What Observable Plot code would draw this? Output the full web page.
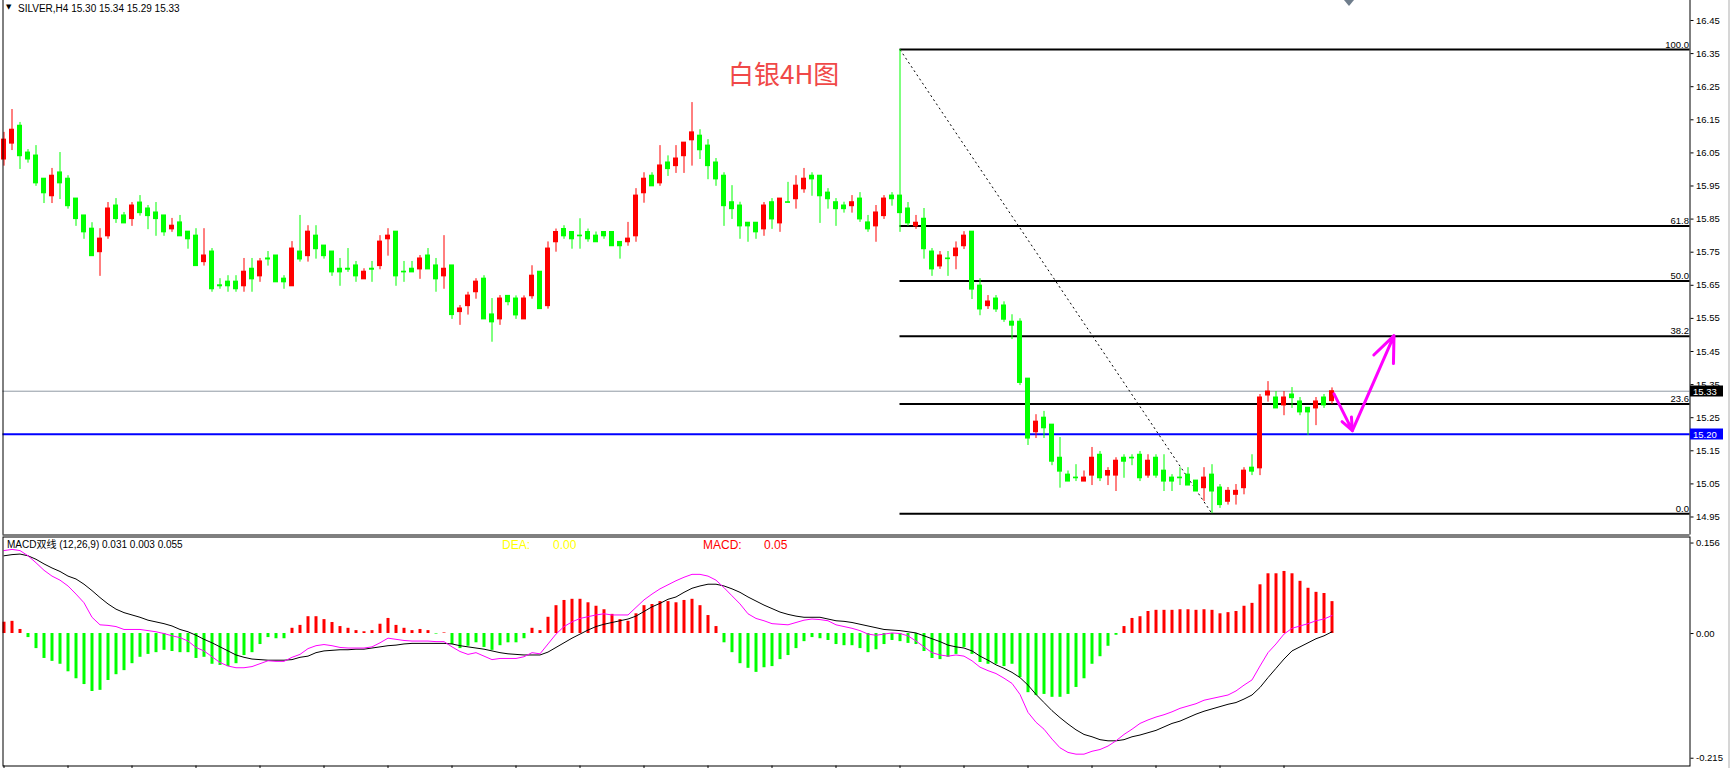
<!DOCTYPE html>
<html><head><meta charset="utf-8">
<script src="https://cdn.jsdelivr.net/npm/d3@7"></script>
<script src="https://cdn.jsdelivr.net/npm/@observablehq/plot@0.6"></script>
<style>
html,body{margin:0;padding:0;background:#fff;overflow:hidden;}
#wrap{position:relative;width:1731px;height:768px;overflow:hidden;background:#fff;font-family:'Liberation Sans',Arial,sans-serif;}
#main,#macd{position:absolute;left:0;}
#main{top:0;} #macd{top:535px;}
.lbl{position:absolute;white-space:nowrap;line-height:1;}
#edge{position:absolute;left:1728px;top:0;width:2px;height:768px;background:#d6d6d6;}
</style></head>
<body><div id="wrap"><div id="main"></div><div id="macd"></div><div id="edge"></div></div>
<script>
// ---------- DATA ----------
const symbolName = "SILVER,H4";
const chartTitle = "白银4H图";
const openP = [16.030,16.078,16.132,16.051,16.042,15.972,15.919,15.991,15.972,15.912,15.861,15.821,15.750,15.798,15.891,15.861,15.850,15.900,15.882,15.870,
15.861,15.819,15.840,15.812,15.800,15.720,15.752,15.650,15.661,15.661,15.647,15.700,15.677,15.731,15.740,15.670,15.647,15.752,15.738,15.800,
15.770,15.752,15.700,15.700,15.710,15.668,15.700,15.708,15.789,15.812,15.691,15.700,15.698,15.740,15.710,15.677,15.710,15.569,15.587,15.629,
15.670,15.562,15.547,15.618,15.610,15.547,15.617,15.691,15.587,15.780,15.820,15.811,15.800,15.811,15.800,15.811,15.811,15.781,15.780,15.798,
15.928,15.981,15.958,16.021,16.010,16.040,16.088,16.102,16.072,16.021,15.981,15.901,15.891,15.839,15.839,15.819,15.901,15.837,15.901,15.910,
15.940,15.981,15.981,15.930,15.901,15.891,15.889,15.912,15.840,15.828,15.859,15.921,15.921,15.882,15.828,15.851,15.752,15.707,15.731,15.738,
15.768,15.812,15.649,15.587,15.610,15.589,15.540,15.540,15.368,15.206,15.250,15.229,15.129,15.078,15.069,15.057,15.075,15.138,15.075,15.075,
15.129,15.129,15.138,15.075,15.129,15.090,15.069,15.069,15.078,15.060,15.037,15.078,15.039,14.996,15.017,15.037,15.099,15.097,15.317,15.311,
15.287,15.320,15.299,15.280,15.278,15.311,15.300];
const highP = [16.112,16.181,16.142,16.060,16.072,15.972,16.003,16.051,15.981,15.912,15.861,15.839,15.821,15.900,15.912,15.870,15.900,15.921,15.891,15.900,
15.861,15.852,15.861,15.812,15.821,15.821,15.761,15.670,15.679,15.679,15.731,15.731,15.731,15.752,15.740,15.679,15.782,15.861,15.830,15.830,
15.770,15.752,15.731,15.761,15.722,15.700,15.722,15.800,15.821,15.812,15.722,15.722,15.740,15.761,15.731,15.800,15.710,15.589,15.629,15.670,
15.679,15.610,15.619,15.618,15.618,15.618,15.709,15.691,15.781,15.820,15.830,15.811,15.851,15.820,15.811,15.811,15.811,15.781,15.840,15.942,
15.990,15.990,16.072,16.041,16.072,16.081,16.202,16.120,16.090,16.033,15.990,15.951,15.901,15.839,15.839,15.900,15.912,15.912,15.961,15.981,
16.003,15.990,15.981,15.942,15.912,15.901,15.921,15.930,15.861,15.891,15.921,15.930,16.362,15.900,15.861,15.882,15.761,15.752,15.752,15.781,
15.812,15.812,15.670,15.619,15.619,15.600,15.561,15.549,15.368,15.259,15.269,15.229,15.190,15.089,15.108,15.089,15.160,15.148,15.099,15.129,
15.138,15.138,15.148,15.138,15.138,15.138,15.078,15.099,15.099,15.060,15.099,15.108,15.048,15.039,15.048,15.099,15.138,15.320,15.359,15.329,
15.329,15.341,15.311,15.280,15.311,15.320,15.340];
const lowP = [16.010,16.057,16.000,16.019,15.949,15.897,15.897,15.909,15.880,15.828,15.789,15.738,15.677,15.789,15.837,15.837,15.828,15.859,15.818,15.798,
15.798,15.810,15.798,15.759,15.708,15.708,15.629,15.638,15.629,15.629,15.629,15.629,15.659,15.708,15.659,15.638,15.647,15.720,15.720,15.729,
15.729,15.677,15.647,15.689,15.659,15.668,15.659,15.697,15.738,15.647,15.659,15.689,15.668,15.698,15.629,15.638,15.547,15.529,15.560,15.608,
15.547,15.478,15.529,15.588,15.547,15.547,15.608,15.578,15.578,15.750,15.789,15.759,15.759,15.780,15.780,15.789,15.768,15.729,15.768,15.780,
15.898,15.949,15.949,15.979,15.988,15.988,16.010,16.030,15.969,15.949,15.828,15.849,15.789,15.780,15.789,15.798,15.819,15.810,15.899,15.880,
15.928,15.919,15.837,15.880,15.828,15.868,15.868,15.840,15.810,15.780,15.849,15.889,15.810,15.828,15.819,15.729,15.677,15.698,15.677,15.697,
15.758,15.607,15.558,15.577,15.568,15.538,15.486,15.347,15.166,15.187,15.187,15.105,15.037,15.057,15.057,15.057,15.045,15.057,15.045,15.027,
15.067,15.105,15.057,15.067,15.067,15.027,15.027,15.045,15.045,15.027,14.997,14.960,14.976,14.986,14.986,15.017,15.075,15.075,15.297,15.278,
15.256,15.278,15.256,15.196,15.226,15.278,15.290];
const closeP = [16.090,16.120,16.040,16.030,15.958,15.928,15.981,15.958,15.889,15.850,15.810,15.738,15.791,15.882,15.850,15.837,15.891,15.868,15.859,15.850,
15.810,15.830,15.798,15.789,15.708,15.740,15.638,15.647,15.647,15.638,15.691,15.668,15.722,15.728,15.659,15.659,15.761,15.728,15.812,15.759,
15.738,15.689,15.689,15.697,15.677,15.691,15.697,15.782,15.800,15.677,15.689,15.689,15.731,15.698,15.668,15.700,15.560,15.580,15.619,15.661,
15.547,15.538,15.610,15.599,15.559,15.610,15.679,15.578,15.761,15.811,15.798,15.789,15.798,15.789,15.780,15.798,15.768,15.768,15.791,15.921,
15.972,15.949,16.012,16.001,16.033,16.081,16.112,16.058,16.010,15.970,15.889,15.880,15.828,15.828,15.810,15.891,15.849,15.912,15.899,15.951,
15.972,15.970,15.919,15.910,15.880,15.880,15.901,15.849,15.819,15.870,15.912,15.910,15.868,15.837,15.839,15.759,15.698,15.740,15.729,15.761,
15.800,15.637,15.577,15.601,15.577,15.546,15.528,15.355,15.187,15.238,15.218,15.117,15.087,15.057,15.067,15.069,15.129,15.067,15.089,15.120,
15.117,15.127,15.067,15.120,15.075,15.057,15.057,15.067,15.045,15.027,15.069,15.027,14.986,15.029,15.029,15.090,15.087,15.311,15.329,15.278,
15.311,15.309,15.266,15.266,15.299,15.287,15.330];

const macdHist = [0.0195,0.021,0.007,-0.007,-0.026,-0.043,-0.048,-0.053,-0.066,-0.078,-0.088,-0.100,-0.098,-0.081,-0.071,-0.064,-0.052,-0.041,-0.036,-0.033,
-0.029,-0.031,-0.033,-0.033,-0.043,-0.041,-0.053,-0.055,-0.057,-0.052,-0.038,-0.033,-0.019,-0.007,-0.009,-0.009,0.009,0.014,0.029,0.029,
0.024,0.019,0.012,0.009,0.005,0.003,0.005,0.016,0.026,0.014,0.009,0.005,0.007,0.005,-0.001,0.001,-0.019,-0.026,-0.022,-0.016,
-0.024,-0.029,-0.021,-0.016,-0.016,-0.009,0.009,0.005,0.028,0.048,0.057,0.059,0.059,0.053,0.047,0.041,0.033,0.024,0.021,0.034,
0.048,0.050,0.055,0.055,0.053,0.057,0.059,0.048,0.031,0.012,-0.016,-0.033,-0.052,-0.060,-0.067,-0.059,-0.057,-0.045,-0.038,-0.026,
-0.014,-0.007,-0.009,-0.012,-0.019,-0.021,-0.021,-0.026,-0.033,-0.028,-0.019,-0.012,-0.014,-0.017,-0.019,-0.031,-0.043,-0.045,-0.041,-0.036,
-0.024,-0.036,-0.050,-0.053,-0.053,-0.057,-0.053,-0.076,-0.102,-0.107,-0.105,-0.110,-0.110,-0.105,-0.093,-0.078,-0.053,-0.040,-0.022,-0.003,
0.012,0.026,0.029,0.038,0.040,0.040,0.040,0.041,0.041,0.040,0.041,0.040,0.034,0.036,0.038,0.047,0.052,0.084,0.103,0.103,
0.107,0.103,0.090,0.078,0.071,0.069,0.055];
const macdDiff = [0.143,0.145,0.143,0.134,0.122,0.109,0.099,0.092,0.082,0.068,0.053,0.028,0.015,0.014,0.012,0.007,0.007,0.007,0.005,0.003,
0.000,-0.004,-0.007,-0.013,-0.024,-0.030,-0.040,-0.050,-0.056,-0.059,-0.059,-0.057,-0.052,-0.047,-0.048,-0.048,-0.041,-0.036,-0.026,-0.021,
-0.019,-0.021,-0.024,-0.025,-0.025,-0.025,-0.023,-0.016,-0.008,-0.010,-0.012,-0.013,-0.013,-0.013,-0.014,-0.014,-0.023,-0.031,-0.036,-0.033,
-0.039,-0.045,-0.043,-0.043,-0.043,-0.040,-0.033,-0.035,-0.018,-0.001,0.012,0.020,0.026,0.029,0.032,0.034,0.032,0.032,0.032,0.045,
0.058,0.068,0.077,0.084,0.091,0.097,0.102,0.102,0.099,0.092,0.079,0.065,0.051,0.034,0.026,0.022,0.017,0.016,0.015,0.019,
0.023,0.025,0.024,0.022,0.015,0.012,0.009,0.005,-0.001,-0.003,-0.001,0.001,0.000,-0.004,-0.013,-0.023,-0.033,-0.037,-0.039,-0.037,
-0.039,-0.047,-0.058,-0.064,-0.069,-0.077,-0.086,-0.105,-0.136,-0.153,-0.165,-0.182,-0.197,-0.205,-0.208,-0.208,-0.203,-0.200,-0.194,-0.185,
-0.174,-0.165,-0.155,-0.149,-0.144,-0.140,-0.135,-0.129,-0.125,-0.121,-0.115,-0.112,-0.109,-0.106,-0.099,-0.089,-0.080,-0.056,-0.033,-0.018,
-0.001,0.009,0.013,0.017,0.022,0.025,0.031];
const macdDea = [0.134,0.136,0.137,0.134,0.128,0.120,0.113,0.107,0.099,0.094,0.085,0.074,0.062,0.051,0.042,0.036,0.032,0.028,0.023,0.020,
0.017,0.013,0.007,0.003,-0.003,-0.010,-0.016,-0.023,-0.030,-0.037,-0.041,-0.044,-0.045,-0.046,-0.046,-0.046,-0.045,-0.041,-0.039,-0.033,
-0.030,-0.029,-0.028,-0.028,-0.027,-0.027,-0.025,-0.023,-0.021,-0.020,-0.018,-0.017,-0.017,-0.017,-0.017,-0.017,-0.018,-0.021,-0.023,-0.025,
-0.027,-0.030,-0.033,-0.035,-0.036,-0.037,-0.037,-0.037,-0.032,-0.024,-0.016,-0.008,-0.001,0.006,0.012,0.016,0.019,0.022,0.025,0.030,
0.038,0.046,0.052,0.059,0.063,0.071,0.078,0.082,0.085,0.085,0.082,0.077,0.071,0.063,0.056,0.049,0.043,0.037,0.033,0.030,
0.028,0.028,0.028,0.025,0.022,0.021,0.019,0.016,0.013,0.010,0.007,0.006,0.005,0.003,0.001,-0.004,-0.009,-0.014,-0.020,-0.023,
-0.025,-0.030,-0.039,-0.046,-0.054,-0.060,-0.067,-0.076,-0.089,-0.105,-0.119,-0.133,-0.145,-0.156,-0.166,-0.174,-0.178,-0.183,-0.185,-0.185,
-0.183,-0.178,-0.175,-0.171,-0.167,-0.161,-0.155,-0.151,-0.145,-0.139,-0.134,-0.130,-0.126,-0.122,-0.119,-0.113,-0.106,-0.093,-0.076,-0.060,
-0.044,-0.030,-0.023,-0.016,-0.009,-0.004,0.003];

const priceTicks = [14.95,15.05,15.15,15.25,15.35,15.45,15.55,15.65,15.75,15.85,15.95,16.05,16.15,16.25,16.35,16.45];
const macdTicks = [0.156, 0, -0.215];
const macdTickLabels = ["0.156", "0.00", "-0.215"];
const timeTickBars = [0,8,16,24,32,40,48,56,64,72,80,88,96,104,112,120,128,136,144,152,160];

const fibLabels = ["100.0","61.8","50.0","38.2","23.6","0.0"];
const fibPrices = [16.362,15.829,15.663,15.496,15.291,14.960];
const fibStartBar = 112;
const trendBars = [112, 151];
const trendPrices = [16.362, 14.960];
const supportPrice = 15.20;
const bidPrice = 15.33;
const arrowBars = [166.25, 168.55, 173.75];
const arrowPrices = [15.322, 15.211, 15.498];
const macdParams = "(12,26,9)";
const deaText = ["DEA:", "0.00"];
const macdText = ["MACD:", "0.05"];

// ---------- CHART ----------
const W = 1731;
const xDomain = [-0.125, 210.75];
const mainYDomain = [14.8956, 16.5104];
const macdYDomain = [-0.2284, 0.1664];
const RED = "#ff0000", GREEN = "#00ff00";
const font = "'Liberation Sans', Arial, sans-serif";

const bars = openP.map((o, i) => ({i, o, h: highP[i], l: lowP[i], c: closeP[i], up: closeP[i] > openP[i]}));
const upBars = bars.filter(d => d.up), downBars = bars.filter(d => !d.up);
const fibData = fibPrices.map((p, j) => ({p, label: fibLabels[j]}));
const arrowSegs = [0, 1].map(j => ({x1: arrowBars[j], y1: arrowPrices[j], x2: arrowBars[j + 1], y2: arrowPrices[j + 1]}));

function candleMarks(data, color) {
  return [
    Plot.ruleX(data, {x: "i", y1: "l", y2: "h", stroke: color, strokeWidth: 1}),
    Plot.rect(data, {x1: d => d.i - 0.3125, x2: d => d.i + 0.3125, y1: d => Math.min(d.o, d.c), y2: d => Math.max(d.o, d.c), fill: color, insetTop: -0.5, insetBottom: -0.5})
  ];
}

const main = Plot.plot({
  width: W, height: 535,
  marginLeft: 2.5, marginRight: 41.5, marginTop: 0, marginBottom: 0.5,
  x: {domain: xDomain, axis: null},
  y: {domain: mainYDomain, axis: null},
  style: {fontFamily: font, fontSize: "9.5px", background: "transparent", overflow: "visible"},
  marks: [
    Plot.ruleY([bidPrice], {stroke: "#8f9aa4", strokeWidth: 1}),
    Plot.ruleY([supportPrice], {stroke: "#0000ff", strokeWidth: 2}),
    Plot.ruleY(fibData, {y: "p", x1: fibStartBar, x2: xDomain[1], stroke: "#000", strokeWidth: 2}),
    Plot.link([0], {x1: () => trendBars[0], y1: () => trendPrices[0], x2: () => trendBars[1], y2: () => trendPrices[1], stroke: "#000", strokeWidth: 1, strokeDasharray: "2,3"}),
    ...candleMarks(downBars, GREEN),
    ...candleMarks(upBars, RED),
    Plot.arrow(arrowSegs, {x1: "x1", y1: "y1", x2: "x2", y2: "y2", stroke: "#ff00ff", strokeWidth: 3, headLength: 14, headAngle: 45}),
    Plot.text(fibData, {x: xDomain[1], y: "p", text: "label", textAnchor: "end", lineAnchor: "bottom", dx: -1, dy: -2, fill: "#000", fontSize: 9.5}),
    Plot.axisY({anchor: "right", ticks: priceTicks, tickFormat: d3.format(".2f"), tickSize: 3, tickPadding: 3, label: null}),
    Plot.ruleX([xDomain[0], xDomain[1]], {stroke: "#000"}),
    Plot.ruleY([mainYDomain[0]], {stroke: "#000"})
  ]
});
document.getElementById("main").appendChild(main);

// current-price tags on the price axis
const ys = main.scale("y");
const svgM = d3.select(main);
[[bidPrice, "#000000"], [supportPrice, "#0000ff"]].forEach(([p, col]) => {
  const y = ys.apply(p);
  svgM.append("rect").attr("x", 1690).attr("y", Math.round(y) - 5.5).attr("width", 33).attr("height", 11).attr("fill", col);
  svgM.append("text").attr("x", 1693).attr("y", Math.round(y) + 3.5).attr("fill", "#fff")
    .attr("text-anchor", "start").attr("font-family", font).attr("font-size", 9.5).text(d3.format(".2f")(p));
});
// chart shift marker
svgM.append("path").attr("d", "M1344,0L1354,0L1349,6Z").attr("fill", "#6f7d8c");

const histPos = macdHist.map((v, i) => ({i, v})).filter(d => d.v >= 0);
const histNeg = macdHist.map((v, i) => ({i, v})).filter(d => d.v < 0);

const macd = Plot.plot({
  width: W, height: 233,
  marginLeft: 2.5, marginRight: 41.5, marginTop: 1.5, marginBottom: 2.5,
  x: {domain: xDomain, axis: null},
  y: {domain: macdYDomain, axis: null},
  style: {fontFamily: font, fontSize: "9.5px", background: "transparent", overflow: "visible"},
  marks: [
    Plot.ruleX(histPos, {x: "i", y1: 0, y2: "v", stroke: RED, strokeWidth: 3}),
    Plot.ruleX(histNeg, {x: "i", y1: 0, y2: "v", stroke: GREEN, strokeWidth: 3}),
    Plot.line(macdDea, {x: (d, i) => i, y: d => d, stroke: "#000", strokeWidth: 1}),
    Plot.line(macdDiff, {x: (d, i) => i, y: d => d, stroke: "#ff00ff", strokeWidth: 1}),
    Plot.frame({stroke: "#000"}),
    Plot.axisY({anchor: "right", ticks: macdTicks, tickFormat: d => macdTickLabels[macdTicks.indexOf(d)], tickSize: 3, tickPadding: 3, label: null}),
    Plot.axisX({anchor: "bottom", ticks: timeTickBars, tickSize: 3, tickFormat: () => "", label: null})
  ]
});
document.getElementById("macd").appendChild(macd);

// ---------- TEXT ----------
const wrap = document.getElementById("wrap");
function label(txt, left, top, size, color, fam) {
  const d = document.createElement("div");
  d.className = "lbl";
  d.textContent = txt;
  Object.assign(d.style, {left: left + "px", top: top + "px", fontSize: size + "px", color, fontFamily: fam || font});
  wrap.appendChild(d);
  return d;
}
const last = bars.length - 1;
const f2 = d3.format(".2f"), f3 = d3.format(".3f");
label("▼", 6, 4, 7, "#000", "'DejaVu Sans', sans-serif");
label(`${symbolName}  ${f2(openP[last])} ${f2(highP[last])} ${f2(lowP[last])} ${f2(closeP[last])}`, 18, 4, 10, "#000");
label(chartTitle, 728, 60, 26, "#f04848", "'Noto Sans CJK SC', sans-serif");
label(`MACD双线 ${macdParams} ${f3(macdDiff[last])} ${f3(macdDea[last])} ${f3(macdHist[last])}`, 7, 540, 10, "#000", "'Liberation Sans','Noto Sans CJK SC',sans-serif");
label(deaText[0], 502, 539, 12, "#ffff00");
label(deaText[1], 553, 539, 12, "#ffff00");
label(macdText[0], 703, 539, 12, "#ff0000");
label(macdText[1], 764, 539, 12, "#ff0000");
</script>
</body></html>
